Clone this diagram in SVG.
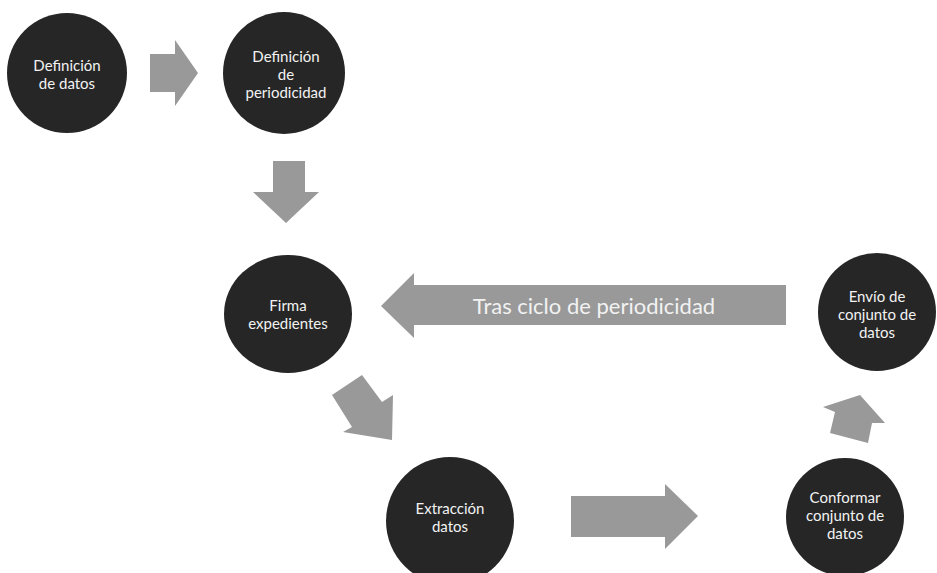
<svg xmlns="http://www.w3.org/2000/svg" width="937" height="573" viewBox="0 0 937 573">
<style>
.node{fill:#262626;}
.lbl{font-family:Lato,"Open Sans","Liberation Sans",sans-serif;font-size:15px;fill:#f2f2f2;text-anchor:middle;}
.arr{fill:#999999;}
.big{font-family:Lato,"Open Sans","Liberation Sans",sans-serif;font-size:22px;fill:#f2f2f2;text-anchor:middle;}
</style>
<rect width="937" height="573" fill="#ffffff"/>
<g id="connectors">
<polygon class="arr" points="150,54 175,54 175,40 198,73 175,106 175,92 150,92"/>
<polygon class="arr" points="273,161 305,161 305,192 319,192 286,223 253,192 273,192"/>
<g id="loop-arrow">
<polygon class="arr" points="786,285 786,325 414,325 414,338 381,306 414,273 414,285"/>
<text class="big" x="594" y="314">Tras ciclo de periodicidad</text>
</g>
<polygon class="arr" points="362,375 382,402 393,395 392,440 343,432 352,427 332,395"/>
<polygon class="arr" points="571,496 665,496 665,484 698,516 665,549 665,537 571,537"/>
<polygon class="arr" points="860,395 885,423 872,423 868,443 830,433 835,412 823,407"/>
</g>
<g id="n1">
<circle class="node" cx="67" cy="73" r="60"/>
<text class="lbl" x="67" y="71">Definición</text>
<text class="lbl" x="67" y="89">de datos</text>
</g>
<g id="n2">
<circle class="node" cx="284" cy="73" r="61"/>
<text class="lbl" x="286" y="62">Definición</text>
<text class="lbl" x="286" y="80">de</text>
<text class="lbl" x="286" y="98">periodicidad</text>
</g>
<g id="n3">
<ellipse class="node" cx="288" cy="314" rx="64" ry="59"/>
<text class="lbl" x="288" y="311">Firma</text>
<text class="lbl" x="288" y="329">expedientes</text>
</g>
<g id="n4">
<circle class="node" cx="450" cy="521" r="64"/>
<text class="lbl" x="450" y="514">Extracción</text>
<text class="lbl" x="450" y="532">datos</text>
</g>
<g id="n5">
<circle class="node" cx="845" cy="517" r="59"/>
<text class="lbl" x="845" y="503">Conformar</text>
<text class="lbl" x="845" y="521">conjunto de</text>
<text class="lbl" x="845" y="539">datos</text>
</g>
<g id="n6">
<circle class="node" cx="877" cy="312" r="59"/>
<text class="lbl" x="877" y="302">Envío de</text>
<text class="lbl" x="877" y="320">conjunto de</text>
<text class="lbl" x="877" y="338">datos</text>
</g>
</svg>
